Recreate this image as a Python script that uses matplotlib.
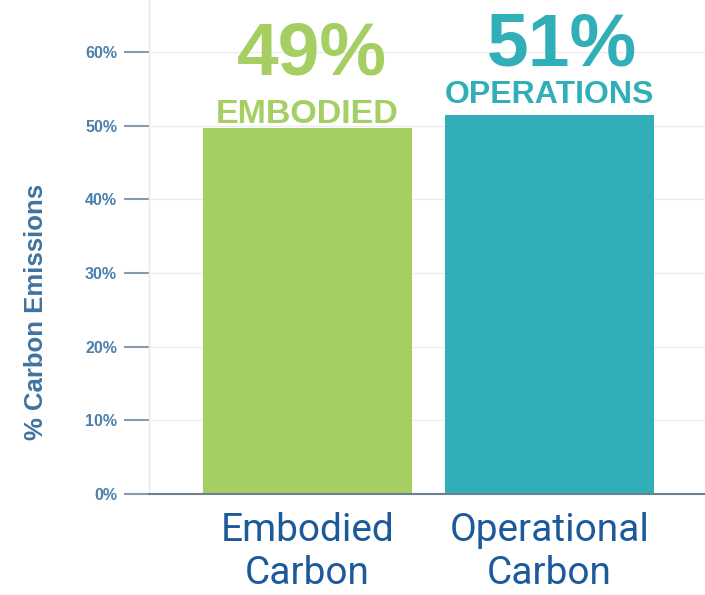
import matplotlib
matplotlib.use("Agg")
import matplotlib.pyplot as plt

categories = ["Embodied\nCarbon", "Operational\nCarbon"]
values = [49.7, 51.4]
big_labels = ["49%", "51%"]
sub_labels = ["EMBODIED", "OPERATIONS"]
yticks = [0, 10, 20, 30, 40, 50, 60]
ytick_labels = ["0%", "10%", "20%", "30%", "40%", "50%", "60%"]

GREEN = "#a5cf63"
TEAL = "#31afb8"
colors = [GREEN, TEAL]
TICK_BLUE = "#4c7fab"
CAT_BLUE = "#1d5a9b"

fig = plt.figure(figsize=(7.05, 5.95), dpi=100)
ax = fig.add_axes([149 / 705, 101 / 595, 1 - 149 / 705, 494 / 595])

x = list(range(len(categories)))
ax.bar(x, values, width=0.866, color=colors, zorder=2)

ax.set_xlim(-0.655, 1.643)
ax.set_ylim(0, 67.05)

ax.set_yticks(yticks)
ax.set_yticklabels(ytick_labels, fontfamily="Liberation Sans", fontweight="bold",
                   fontsize=11.5, color=TICK_BLUE)
ax.tick_params(axis="y", length=18, width=1.5, color="#8a9aab", pad=5)
ax.set_xticks(x)
ax.set_xticklabels(categories, fontfamily="Roboto", fontsize=28, color=CAT_BLUE,
                   linespacing=1.2)
ax.tick_params(axis="x", length=0, pad=13)

ax.grid(axis="y", color="#ececec", linewidth=1, zorder=0)
for s in ["top", "right"]:
    ax.spines[s].set_visible(False)
ax.spines["left"].set_color("#e6e6e6")
ax.spines["left"].set_linewidth(1)
ax.spines["bottom"].set_color("#6e7f90")
ax.spines["bottom"].set_linewidth(1.5)
ax.spines["bottom"].set_zorder(3)

ax.set_ylabel("% Carbon Emissions", fontfamily="Liberation Sans", fontweight="bold",
              fontsize=18.5, color="#3f73a0")
ax.yaxis.set_label_coords(-0.182, 0.368)

sub_off = [0.6, 1.7]
big_off = [7.2, 6.8]
big_dx = [0.02, 0.05]
sub_size = [24.5, 23]
for i in x:
    ax.text(i, values[i] + sub_off[i], sub_labels[i], ha="center", va="baseline",
            fontfamily="Liberation Sans", fontweight="bold", fontsize=sub_size[i],
            color=colors[i])
    ax.text(i + big_dx[i], values[i] + big_off[i], big_labels[i], ha="center",
            va="baseline", fontfamily="Liberation Sans", fontweight="bold",
            fontsize=54, color=colors[i])

fig.savefig("out.png", dpi=100)
